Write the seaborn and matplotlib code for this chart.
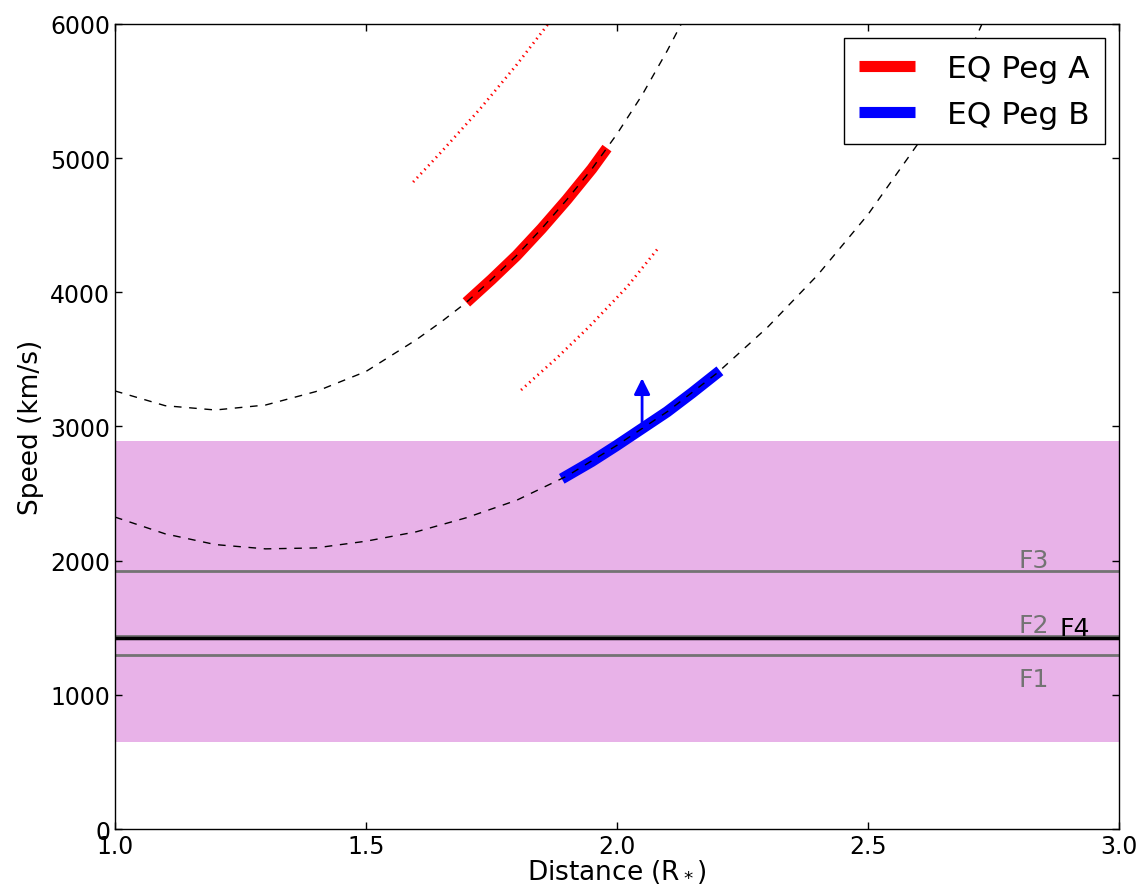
import matplotlib
matplotlib.use('Agg')
import matplotlib.pyplot as plt
import seaborn as sns

# dashed model curves: distance (R*) vs speed (km/s)
upper_x = [1.0, 1.1, 1.2, 1.3, 1.4, 1.5, 1.6, 1.65, 1.7, 1.75, 1.8, 1.85, 1.9, 1.95, 2.0, 2.05, 2.1, 2.128]
upper_v = [3265, 3155, 3123, 3160, 3260, 3410, 3646, 3780, 3925, 4095, 4274, 4475, 4690, 4920, 5180, 5470, 5800, 6000]
lower_x = [1.0, 1.1, 1.2, 1.3, 1.4, 1.5, 1.6, 1.7, 1.8, 1.9, 2.0, 2.1, 2.2, 2.3, 2.4, 2.5, 2.6, 2.7, 2.727]
lower_v = [2325, 2200, 2120, 2088, 2095, 2145, 2215, 2320, 2450, 2630, 2860, 3110, 3400, 3740, 4130, 4580, 5110, 5770, 6000]

# measured segments
a_x = [1.70, 1.75, 1.80, 1.85, 1.90, 1.95, 1.98]
a_v = [3925, 4095, 4274, 4475, 4690, 4920, 5075]
b_x = [1.89, 1.95, 2.00, 2.05, 2.10, 2.15, 2.205]
b_v = [2610, 2740, 2860, 2985, 3110, 3252, 3415]

# uncertainty curves for EQ Peg A
a_hi_x = [1.594, 1.65, 1.727, 1.80, 1.863]
a_hi_v = [4822, 5046, 5366, 5695, 6000]
a_lo_x = [1.809, 1.88, 1.946, 2.02, 2.084]
a_lo_v = [3272, 3510, 3749, 4040, 4338]

# lower limit arrow for EQ Peg B
arrow_x = 2.05
arrow_v0 = 3000
arrow_v1 = 3360

# shaded band and reference speeds
band = (650, 2890)
f_names = ['F1', 'F2', 'F3']
f_speeds = [1300, 1440, 1920]
f_label_v = [1066, 1468, 1953]
f4_speed = 1423
f4_label_v = 1446

sns.set_style('ticks', {'xtick.direction': 'in', 'ytick.direction': 'in',
                        'text.color': 'k', 'axes.labelcolor': 'k',
                        'xtick.color': 'k', 'ytick.color': 'k'})
plt.rcParams['xtick.top'] = True
plt.rcParams['ytick.right'] = True
plt.rcParams['font.family'] = ['DejaVu Sans']

fig, ax = plt.subplots(figsize=(11.45, 8.95), dpi=100)
fig.subplots_adjust(left=0.1004, right=0.9773, top=0.9721, bottom=0.0726)

ax.axhspan(band[0], band[1], color='#e8b2e8', lw=0, zorder=0)
for name, v, lv in zip(f_names, f_speeds, f_label_v):
    ax.axhline(v, color='0.45', lw=2, zorder=1)
    ax.text(2.80, lv, name, color='0.45', fontsize=18, va='baseline', zorder=1)
ax.axhline(f4_speed, color='k', lw=2.5, zorder=1)
ax.text(2.882, f4_label_v, 'F4', color='k', fontsize=18, va='baseline', zorder=1)

sns.lineplot(x=a_x, y=a_v, ax=ax, color='red', lw=8, label='EQ Peg A',
             solid_capstyle='butt', zorder=2)
sns.lineplot(x=b_x, y=b_v, ax=ax, color='blue', lw=8, label='EQ Peg B',
             solid_capstyle='butt', zorder=2)

dotted = (0, (0.5, 1.5))
sns.lineplot(x=a_hi_x, y=a_hi_v, ax=ax, color='red', lw=2, linestyle=dotted,
             dash_capstyle='butt', zorder=2)
sns.lineplot(x=a_lo_x, y=a_lo_v, ax=ax, color='red', lw=2, linestyle=dotted,
             dash_capstyle='butt', zorder=2)

dashed = (0, (5.5, 5.5))
sns.lineplot(x=upper_x, y=upper_v, ax=ax, color='k', lw=1, linestyle=dashed, zorder=3)
sns.lineplot(x=lower_x, y=lower_v, ax=ax, color='k', lw=1, linestyle=dashed, zorder=3)

ax.annotate('', xy=(arrow_x, arrow_v1), xytext=(arrow_x, arrow_v0),
            arrowprops=dict(arrowstyle='-|>', color='blue', lw=2,
                            mutation_scale=24, shrinkA=0, shrinkB=0), zorder=4)

ax.set_xlim(1.0, 3.0)
ax.set_ylim(0, 6000)
ax.set_xticks([1.0, 1.5, 2.0, 2.5, 3.0])
ax.set_yticks([0, 1000, 2000, 3000, 4000, 5000, 6000])
ax.tick_params(labelsize=17, length=5, width=1, colors='k')
for s in ax.spines.values():
    s.set_color('k')
    s.set_linewidth(1)
ax.set_xlabel('Distance (R$_*$)', fontsize=19, labelpad=0)
ax.set_ylabel('Speed (km/s)', fontsize=19, labelpad=4)

leg = ax.legend(loc='upper right', fontsize=22.5, fancybox=False, framealpha=1,
                edgecolor='k', handlelength=1.8, handletextpad=1.0,
                borderaxespad=0.45, labelspacing=0.55, borderpad=0.5)
leg.get_frame().set_linewidth(1)
for h in leg.get_lines():
    h.set_solid_capstyle('butt')

fig.savefig('out.png', dpi=100)
